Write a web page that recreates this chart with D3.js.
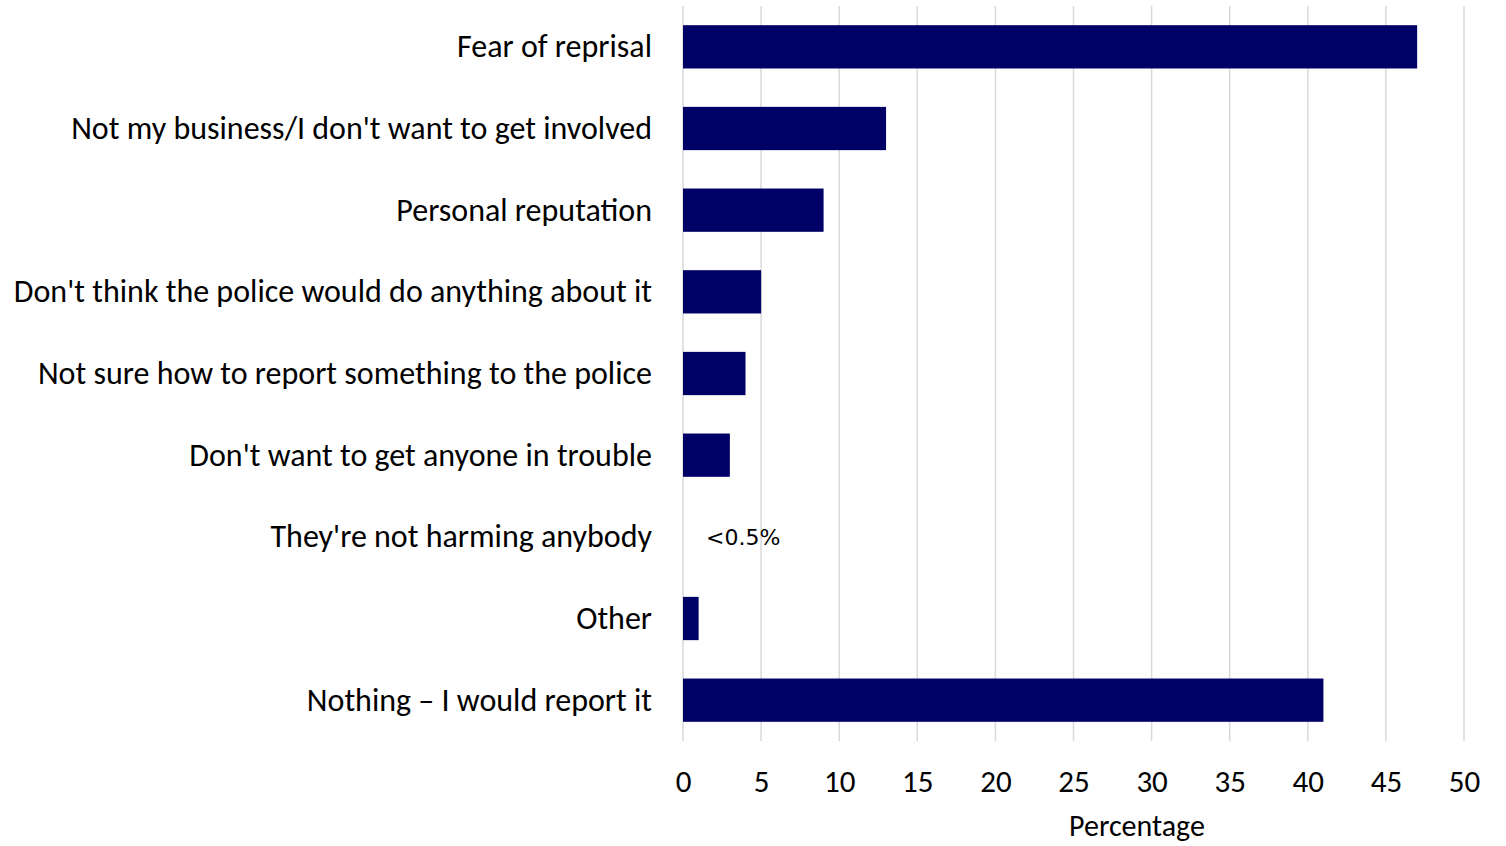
<!DOCTYPE html>
<html>
<head>
<meta charset="utf-8">
<script src="https://cdn.jsdelivr.net/npm/d3@7"></script>
<style>
  body { margin: 0; background: #fff; }
  text { font-family: Carlito, "Open Sans", sans-serif; fill: #000; }
</style>
</head>
<body>
<div id="chart"></div>
<script>
// chart data
var categories = [
    "Fear of reprisal",
    "Not my business/I don't want to get involved",
    "Personal reputation",
    "Don't think the police would do anything about it",
    "Not sure how to report something to the police",
    "Don't want to get anyone in trouble",
    "They're not harming anybody",
    "Other",
    "Nothing \u2013 I would report it"
];
var values = [47, 13, 9, 5, 4, 3, 0, 1, 41];
var valueLabels = ["", "", "", "", "", "", "<0.5%", "", ""];
var xTicks = [0, 5, 10, 15, 20, 25, 30, 35, 40, 45, 50];

var svgWidth = 1506;
var svgHeight = 846;

var margin = { top: 6, right: 42, bottom: 105, left: 683 };
var width = svgWidth - margin.left - margin.right;
var height = svgHeight - margin.top - margin.bottom;

var svg = d3.select("#chart")
    .append("svg")
    .attr("width", svgWidth)
    .attr("height", svgHeight);

var chartGroup = svg.append("g")
    .attr("transform", `translate(${margin.left}, ${margin.top})`);

var data = categories.map(function (c, i) {
    return { cat: c, value: values[i], label: valueLabels[i] };
});

var xScale = d3.scaleLinear()
    .domain([0, 50])
    .range([0, width]);

var yScale = d3.scaleBand()
    .domain(categories)
    .range([0, height])
    .paddingInner(0.47)
    .paddingOuter(0.235);

// gridlines
chartGroup.selectAll(".grid")
    .data(xTicks)
    .enter()
    .append("line")
    .attr("x1", d => xScale(d))
    .attr("x2", d => xScale(d))
    .attr("y1", 0)
    .attr("y2", height)
    .attr("stroke", "#d9d9d9")
    .attr("stroke-width", 1.5);

// bars
chartGroup.selectAll("rect")
    .data(data)
    .enter()
    .append("rect")
    .attr("x", xScale(0))
    .attr("y", d => yScale(d.cat))
    .attr("width", d => xScale(d.value) - xScale(0))
    .attr("height", yScale.bandwidth())
    .attr("fill", "#000066");

// category labels
chartGroup.selectAll(".cat")
    .data(data)
    .enter()
    .append("text")
    .attr("class", "cat")
    .attr("x", -31)
    .attr("y", d => yScale(d.cat) + yScale.bandwidth() / 2)
    .attr("dy", "0.33em")
    .attr("text-anchor", "end")
    .attr("font-size", "32px")
    .text(d => d.cat);

// value label for the near-zero bar
chartGroup.selectAll(".val")
    .data(data.filter(d => d.label !== ""))
    .enter()
    .append("text")
    .attr("class", "val")
    .attr("x", d => xScale(d.value) + 23)
    .attr("y", d => yScale(d.cat) + yScale.bandwidth() / 2)
    .attr("dy", "0.35em")
    .attr("font-size", "22px")
    .style("font-family", "'DejaVu Sans', sans-serif")
    .text(d => d.label);

// bottom axis
var bottomAxis = d3.axisBottom(xScale)
    .tickValues(xTicks)
    .tickSize(0)
    .tickPadding(31);

var axisG = chartGroup.append("g")
    .attr("transform", `translate(0, ${height})`)
    .call(bottomAxis);

axisG.select(".domain").remove();
axisG.selectAll("text")
    .attr("font-size", "31px")
    .attr("dy", "0.66em")
    .style("font-family", "Carlito, 'Open Sans', sans-serif");

// axis title
chartGroup.append("text")
    .attr("x", 1137 - margin.left)
    .attr("y", height + 95)
    .attr("text-anchor", "middle")
    .attr("font-size", "30px")
    .text("Percentage");
</script>
</body>
</html>
